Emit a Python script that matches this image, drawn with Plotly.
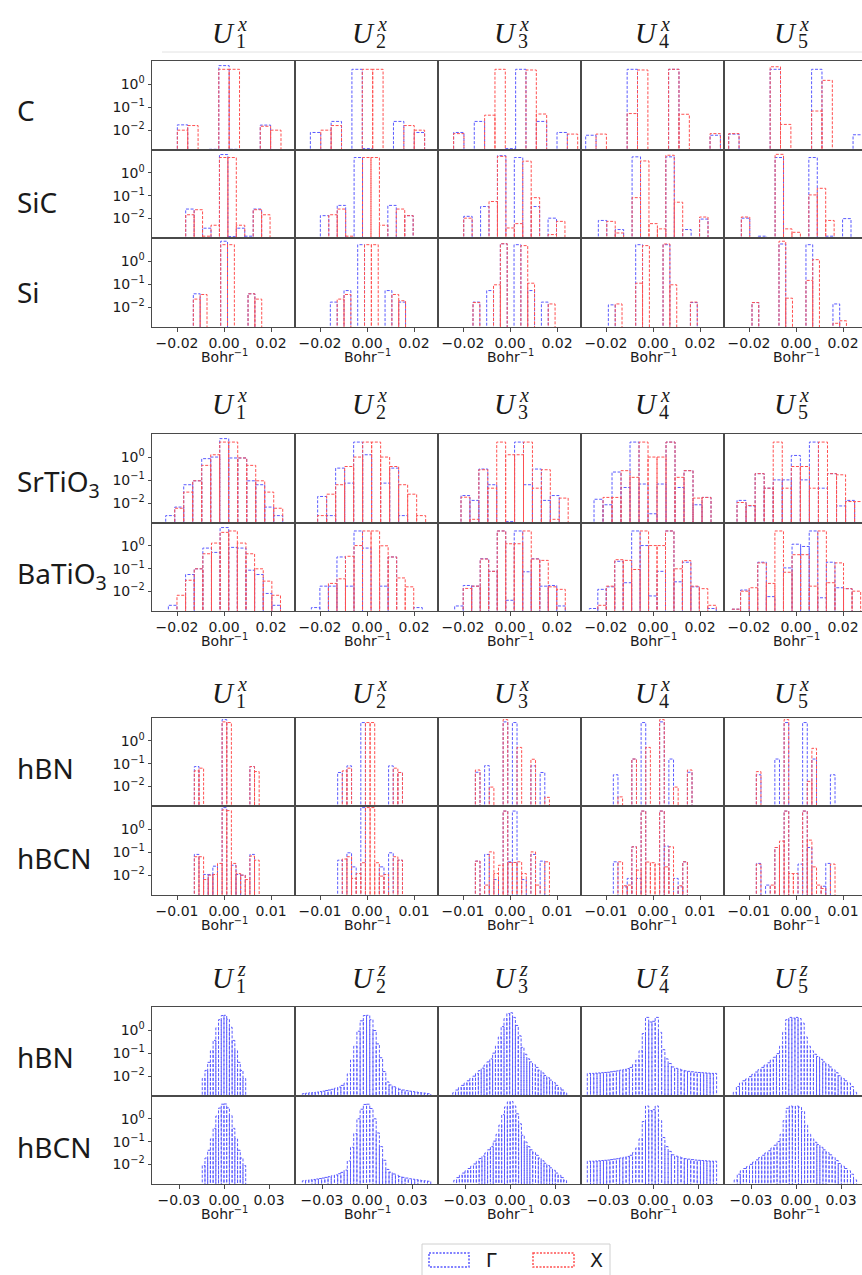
import plotly.graph_objects as go

# ---------------- data: log10(histogram density) per bin, None = empty bin ----------------
# Block 1 : C, SiC, Si   (U^x modes 1..5)
C_lo = [-0.01985, -0.0241, -0.0240, -0.02864, -0.02864]
C_w = [0.00441, 0.00442, 0.00440, 0.00441, 0.00441]
C_G = [
    [-1.77, None, None, -2.83, 0.80, -2.83, None, None, -1.78, None],
    [-2.10, None, -1.62, None, 0.64, -2.80, None, None, -1.62, None, -2.10],
    [-2.10, None, -1.62, None, None, -2.80, 0.64, None, -1.62, None, -2.10, None],
    [-2.22, None, None, None, 0.64, None, None, None, 0.64, None, None, None, -2.22],
    [-2.17, None, None, None, 0.64, None, None, None, 0.64, None, None, None, -2.20],
]
C_X = [
    [-2.00, -1.80, None, None, 0.64, 0.64, None, None, -1.83, -2.00],
    [None, -2.00, -1.80, None, None, 0.64, 0.64, None, None, -1.80, -2.00],
    [-2.15, None, None, -1.35, 0.64, None, None, 0.61, -1.30, None, None, -2.17],
    [None, -2.17, None, None, -1.28, 0.61, None, None, 0.64, -1.31, None, None, -2.15],
    [-2.15, None, None, None, 0.75, -1.75, None, None, -1.17, 0.16, None, None, None],
]

SiC_lo = [-0.0163, -0.01985, -0.0197, -0.02326, -0.02326]
SiC_w = [0.00359, 0.00359, 0.00359, 0.00359, 0.00359]
SiC_G = [
    [-1.59, None, -2.43, None, 0.80, -2.80, -2.43, -2.78, -1.59, None],
    [-1.88, None, -1.43, None, 0.67, None, None, None, -1.43, None, -1.88],
    [-1.91, None, -1.48, None, 0.75, None, 0.67, None, -1.48, None, -1.99, None],
    [-2.09, None, -2.49, None, 0.70, None, None, None, 0.70, None, -2.49, None, -2.03],
    [-1.99, None, -2.78, None, 0.67, None, None, None, 0.67, None, -2.78, None, -2.01],
]
SiC_X = [
    [-1.84, -1.62, -2.78, -2.30, 0.67, 0.67, -2.30, None, -1.62, -1.84],
    [None, -1.84, -1.59, -2.78, None, 0.67, 0.67, -2.30, None, -1.59, -1.88],
    [-1.99, None, None, -1.26, 0.72, -2.42, -2.23, 0.51, -1.09, None, -2.71, -2.13],
    [None, -2.13, -2.64, None, -1.09, 0.52, -2.23, -2.46, 0.77, -1.29, None, None, -1.94],
    [-1.94, None, None, None, 0.81, -2.46, -2.61, None, -0.97, -0.68, -2.09, None, None],
]

Si_lo = [-0.01305, -0.0156, -0.01574, -0.0190, -0.01872]
Si_w = [0.00291, 0.00291, 0.00291, 0.00291, 0.00287]
Si_G = [
    [-1.42, None, None, None, 0.86, None, None, None, -1.42, None],
    [-1.78, None, -1.28, None, 0.71, None, None, None, -1.28, None, -1.78],
    [-1.78, None, -1.28, None, 0.75, None, 0.71, None, -1.28, None, -1.78, None],
    [-1.90, None, None, None, 0.71, None, None, None, 0.71, None, None, None, -1.80],
    [-1.80, None, None, None, 0.74, None, None, None, 0.71, None, None, None, -1.86, None],
]
Si_X = [
    [-1.65, -1.45, None, None, 0.71, 0.71, None, None, -1.42, -1.65],
    [None, -1.65, -1.45, None, None, 0.71, 0.71, None, None, -1.45, -1.72],
    [-1.80, None, None, -1.03, 0.75, None, None, 0.67, -0.96, None, None, -1.86],
    [None, -1.86, None, None, -0.96, 0.67, None, None, 0.74, -1.03, None, None, -1.78],
    [-1.80, None, None, None, 0.86, -1.61, None, None, -0.84, 0.06, None, None, -2.70, -2.59],
]

# Block 2 : SrTiO3, BaTiO3
STO_lo = [-0.0248, -0.0210, -0.02085, -0.0251, -0.0251]
STO_w = [0.00383, 0.00383, 0.00380, 0.00383, 0.00385]
STO_G = [
    [-2.54, -2.17, -1.20, -1.03, -0.07, 0.00, 0.80, -0.04, -0.04, -1.03, -1.20, -2.17, -2.54],
    [-1.71, -2.54, -0.48, -1.13, 0.65, 0.10, None, -1.13, -0.48, -2.54, None, None],
    [-1.67, -1.88, -0.52, -1.20, None, -2.80, 0.65, -1.20, -0.52, -1.88, -1.67, None],
    [-1.83, -2.07, -0.65, -1.32, 0.65, -1.17, -2.46, -1.17, 0.65, -1.32, -0.59, -2.07, -1.75],
    [-1.88, -2.12, -0.72, -1.35, -0.99, -0.99, 0.07, -0.99, 0.65, -1.35, -0.72, -2.12, -1.88, None],
]
STO_X = [
    [None, -2.22, -1.52, -1.03, -0.36, 0.10, 0.65, 0.65, -0.04, -0.36, -1.03, -1.52, -2.22],
    [-2.54, -1.61, -1.20, -0.41, 0.00, 0.65, 0.65, 0.00, -0.41, -1.20, -1.61, -2.54],
    [-1.74, -2.70, -0.55, -1.35, 0.65, 0.10, 0.10, 0.65, -1.35, -0.55, -2.70, -1.78],
    [None, -1.75, -1.75, -0.59, -0.88, 0.65, 0.00, 0.00, 0.65, -0.88, -0.59, -1.78, -1.75],
    [-1.97, -2.10, -0.72, -1.35, 0.65, -1.35, -0.41, -0.41, -1.35, 0.65, -0.72, -0.77, -1.93, -1.93],
]

BTO_lo = [-0.02368, -0.02368, -0.02354, -0.02708, -0.02723]
BTO_w = [0.00367, 0.00363, 0.00362, 0.00360, 0.00365]
BTO_G = [
    [-2.61, None, -1.26, -1.01, -0.10, -0.29, 0.80, -0.07, -0.10, -1.07, -1.26, -2.09, -2.61],
    [-2.71, -1.77, -1.77, -0.49, -1.77, 0.65, -0.10, None, -1.77, -0.49, None, None, -2.71],
    [-2.64, -1.74, -1.77, -0.57, -1.12, 0.65, -2.39, 0.65, -1.14, -0.57, -1.77, -1.74, -2.64],
    [-2.75, -1.91, -1.80, -0.68, -1.62, 0.65, 0.01, -2.20, -1.12, 0.65, -1.58, -0.72, -1.80, None, -2.75],
    [-2.78, -1.94, None, -0.72, -2.23, None, -0.97, 0.07, -0.03, 0.65, -2.28, -0.72, -1.84, -1.88, None],
]
BTO_X = [
    [None, -2.17, -1.51, -1.01, -0.35, 0.12, 0.59, 0.65, 0.12, -0.35, -1.01, -1.55, -2.17],
    [None, None, -1.65, -1.45, -0.46, 0.01, 0.65, 0.65, 0.00, -0.49, -1.41, -1.80, None],
    [None, -1.87, -1.77, -0.58, -1.12, 0.65, 0.09, 0.09, 0.65, -0.58, -0.64, -1.80, -1.91],
    [None, -2.61, -1.77, -0.61, -0.64, -1.04, 0.65, 0.01, 0.01, 0.65, -1.01, -0.65, -1.77, -1.88, -2.61],
    [-2.78, -1.99, -1.84, -0.75, -1.65, 0.65, -1.16, -0.39, -0.39, -1.77, 0.65, -1.62, -0.75, -1.88, -1.99],
]

# Block 3 : hBN, hBCN  (in-plane, U^x)
BNx_lo = [-0.00631, -0.00624, -0.00737, -0.00844, -0.00844]
BNx_w = [0.000985, 0.000985, 0.000985, 0.000985, 0.000985]
BNx_G = [
    [-1.13, None, None, None, None, None, 0.93, None, None, None, None, None, -1.13, None],
    [-1.39, None, -1.10, None, None, 0.80, None, None, None, None, None, -1.10, None, -1.39],
    [-1.38, None, -1.09, None, None, None, 0.83, None, 0.80, None, None, None, -1.10, None, -1.39, None],
    [-1.49, None, None, None, -0.80, None, 0.80, None, None, None, 0.83, None, -0.80, None, None, None, -1.38],
    [-1.49, None, None, None, -0.80, None, 0.80, None, None, None, 0.80, None, -0.80, None, None, None, -1.49],
]
BNx_X = [
    [-1.32, -1.20, None, None, None, None, 0.83, 0.80, None, None, None, None, -1.13, -1.35],
    [None, -1.32, -1.20, None, None, None, 0.80, 0.80, None, None, None, None, -1.20, -1.39],
    [-1.28, None, None, -2.03, None, None, 0.93, None, None, -0.29, None, None, -0.81, None, None, -2.48],
    [None, -2.46, None, None, -0.80, None, None, -0.29, None, None, 0.93, None, None, -2.03, None, None, -1.28],
    [-1.35, None, None, None, None, None, 0.93, None, None, None, None, -1.78, -0.33, None, None, None, None],
]

BCNx_lo = [-0.00631, -0.00624, -0.00737, -0.00844, -0.00844]
BCNx_w = [0.000985, 0.000985, 0.000985, 0.000985, 0.000985]
BCNx_G = [
    [-1.10, None, -1.97, -1.97, -1.61, None, 0.93, None, -1.57, -1.97, -2.00, None, -1.10, None],
    [-1.35, None, -1.03, -1.64, None, 0.93, None, None, None, -1.64, None, -1.03, None, -1.35],
    [-1.39, None, -1.10, None, -2.19, None, 0.78, -1.42, 0.78, None, -2.19, None, -1.10, None, -1.39, None],
    [-1.42, None, -2.51, -2.14, -0.77, -2.14, 0.78, None, None, None, 0.78, -0.74, None, -2.14, -2.51, -1.42, None],
    [-1.49, None, -2.43, None, -0.80, None, 0.78, None, None, -1.52, 0.78, -0.80, None, None, -2.48, -1.49, None],
]
BCNx_X = [
    [-1.20, -1.20, -2.19, -2.00, -1.97, -1.49, 0.83, 0.80, -1.49, -1.93, -2.00, -2.19, -1.17, -1.35],
    [None, -1.30, -1.20, -2.14, -1.93, -1.46, 0.93, 0.93, -1.46, -2.04, -1.97, None, -1.20, -1.35],
    [-1.39, None, -2.43, -0.99, -1.93, -1.57, 0.78, -1.45, -1.45, -1.42, -1.93, None, -0.99, -2.43, None, -1.42],
    [None, -1.42, -2.46, -2.43, -0.77, -1.78, 0.78, -1.43, -1.46, -1.52, 0.78, -1.64, -0.77, None, -2.46, -1.42, None],
    [-1.52, None, None, -2.43, -0.80, -0.52, 0.78, -1.93, -1.93, None, 0.78, -0.48, -1.64, -2.43, -2.58, None, -1.52],
]

# Block 4 : hBN, hBCN  (out-of-plane, U^z) -- Gamma only visible
BNz_lo = [-0.0145, -0.0431, -0.0382, -0.0438, -0.0418]
BNz_w = [0.00181, 0.00214, 0.00190, 0.002155, 0.002055]
BNz_G = [
    [-2.10, -1.75, -1.40, -0.90, -0.45, 0.10, 0.45, 0.63, 0.64, 0.47, 0.12, -0.45, -0.90, -1.40, -1.75, -2.10],
    [-2.76, -2.74, -2.72, -2.71, -2.69, -2.67, -2.65, -2.62, -2.60, -2.57, -2.52, -2.47, -2.40, -2.30, -1.90,
     -1.30, -0.70, -0.05, 0.40, 0.63, 0.64, 0.45, -0.02, -0.60, -1.20, -1.80, -2.25, -2.38, -2.46, -2.52,
     -2.57, -2.60, -2.63, -2.65, -2.67, -2.69, -2.71, -2.72, -2.74, -2.76],
    [-2.72, -2.60, -2.50, -2.40, -2.30, -2.20, -2.10, -2.00, -1.88, -1.76, -1.65, -1.52, -1.38, -1.25, -1.00,
     -0.70, -0.30, 0.15, 0.50, 0.72, 0.75, 0.55, 0.20, -0.25, -0.75, -1.05, -1.25, -1.38, -1.50, -1.62,
     -1.74, -1.86, -1.97, -2.07, -2.17, -2.28, -2.40, -2.50, -2.60, -2.72],
    [-1.88, -1.88, -1.87, -1.86, -1.85, -1.84, -1.83, -1.81, -1.79, -1.77, -1.74, -1.71, -1.67, -1.62, -1.50,
     -1.30, -0.90, -0.15, 0.55, 0.35, 0.38, 0.55, -0.10, -0.85, -1.25, -1.45, -1.60, -1.66, -1.70, -1.74,
     -1.77, -1.79, -1.81, -1.83, -1.84, -1.85, -1.86, -1.87, -1.88, -1.88],
    [-2.70, -2.45, -2.30, -2.20, -2.12, -2.02, -1.92, -1.82, -1.72, -1.62, -1.52, -1.42, -1.30, -1.18, -1.02,
     -0.70, -0.10, 0.45, 0.55, 0.52, 0.55, 0.50, 0.30, -0.30, -0.70, -0.90, -1.05, -1.15, -1.27, -1.38,
     -1.50, -1.60, -1.72, -1.85, -1.98, -2.10, -2.20, -2.30, -2.45, -2.70],
]
BCNz_lo = [-0.0145, -0.0431, -0.0375, -0.0438, -0.0412]
BCNz_w = [0.00181, 0.00214, 0.00188, 0.002155, 0.00204]
BCNz_G = [
    [-2.05, -1.72, -1.38, -0.88, -0.42, 0.12, 0.47, 0.64, 0.65, 0.48, 0.14, -0.42, -0.88, -1.38, -1.72, -2.05],
    [-2.72, -2.70, -2.68, -2.66, -2.64, -2.62, -2.60, -2.57, -2.54, -2.50, -2.46, -2.41, -2.35, -2.25, -1.85,
     -1.25, -0.65, 0.00, 0.42, 0.63, 0.64, 0.45, 0.00, -0.62, -1.22, -1.82, -2.22, -2.34, -2.42, -2.48,
     -2.53, -2.57, -2.60, -2.63, -2.65, -2.67, -2.69, -2.71, -2.72, -2.74],
    [-2.70, -2.58, -2.48, -2.38, -2.28, -2.18, -2.08, -1.98, -1.86, -1.74, -1.63, -1.50, -1.36, -1.22, -0.98,
     -0.68, -0.28, 0.18, 0.52, 0.74, 0.76, 0.56, 0.22, -0.22, -0.72, -1.02, -1.22, -1.36, -1.48, -1.60,
     -1.72, -1.84, -1.95, -2.05, -2.15, -2.26, -2.38, -2.48, -2.58, -2.70],
    [-1.86, -1.86, -1.85, -1.84, -1.83, -1.82, -1.81, -1.79, -1.77, -1.75, -1.72, -1.69, -1.65, -1.60, -1.48,
     -1.28, -0.88, -0.12, 0.56, 0.36, 0.40, 0.56, -0.08, -0.82, -1.22, -1.43, -1.58, -1.64, -1.68, -1.72,
     -1.75, -1.77, -1.79, -1.81, -1.82, -1.83, -1.84, -1.85, -1.86, -1.86],
    [-2.68, -2.43, -2.28, -2.18, -2.10, -2.00, -1.90, -1.80, -1.70, -1.60, -1.50, -1.40, -1.28, -1.16, -1.00,
     -0.68, -0.08, 0.46, 0.56, 0.53, 0.56, 0.51, 0.32, -0.28, -0.68, -0.88, -1.03, -1.13, -1.25, -1.36,
     -1.48, -1.58, -1.70, -1.83, -1.96, -2.08, -2.18, -2.28, -2.43, -2.68],
]

ROW_LABELS = ["C", "SiC", "Si", "SrTiO<sub>3</sub>", "BaTiO<sub>3</sub>", "hBN", "hBCN", "hBN", "hBCN"]
MODE_NAMES = ["1", "2", "3", "4", "5"]
YTICK_VALS = [1, 0.1, 0.01]
YTICK_TEXT = ["10<sup>0</sup>", "10<sup>\u22121</sup>", "10<sup>\u22122</sup>"]
LEGEND_NAMES = ["\u0393", "X"]

# ---------------- geometry ----------------
W, H = 862, 1275
COL_L = [152, 295, 438, 581, 724]
COL_W = 143
RIGHT = 862
YR = [-2.86, 1.0]
FLOOR = 1e-4
BLUE = "#5a5aff"
RED = "#ff5050"
DASH = "3px,1.6px"
FRAME = "#4a4a4a"
TXT = "#1a1a1a"

BLOCKS = [
    dict(upp=0.02 / 47, ticks=[-0.02, 0, 0.02], labels=["\u22120.02", "0.00", "0.02"], title_y=33, comp="x"),
    dict(upp=0.02 / 47, ticks=[-0.02, 0, 0.02], labels=["\u22120.02", "0.00", "0.02"], title_y=404, comp="x"),
    dict(upp=0.01 / 47, ticks=[-0.01, 0, 0.01], labels=["\u22120.01", "0.00", "0.01"], title_y=693, comp="x"),
    dict(upp=0.03 / 45, ticks=[-0.03, 0, 0.03], labels=["\u22120.03", "0.00", "0.03"], title_y=978, comp="z"),
]
ROWS = [
    (0, 61, 150, C_lo, C_w, C_G, C_X, 110),
    (0, 150, 238, SiC_lo, SiC_w, SiC_G, SiC_X, 202),
    (0, 238, 327, Si_lo, Si_w, Si_G, Si_X, 292),
    (1, 434, 523, STO_lo, STO_w, STO_G, STO_X, 483),
    (1, 523, 611, BTO_lo, BTO_w, BTO_G, BTO_X, 575),
    (2, 718, 806, BNx_lo, BNx_w, BNx_G, BNx_X, 768),
    (2, 806, 895, BCNx_lo, BCNx_w, BCNx_G, BCNx_X, 858),
    (3, 1007, 1096, BNz_lo, BNz_w, BNz_G, None, 1057),
    (3, 1096, 1184, BCNz_lo, BCNz_w, BCNz_G, None, 1147),
]
BOTTOM_ROWS = {2, 4, 6, 8}
TITLE_X = [225, 365, 507, 648, 787]


def rect_path(lo, w, vals):
    xs, ys = [], []
    for i, v in enumerate(vals):
        if v is None:
            continue
        x0 = lo + i * w
        x1 = x0 + w
        h = 10 ** v
        xs += [x0, x0, x1, x1, None]
        ys += [FLOOR, h, h, FLOOR, None]
    return xs, ys


fig = go.Figure()
layout = {}
annotations = []
n = 0
for r, (b, top, bot, lo, w, G, X, label_y) in enumerate(ROWS):
    blk = BLOCKS[b]
    upp = blk["upp"]
    is_bottom = r in BOTTOM_ROWS
    for c in range(5):
        n += 1
        L = COL_L[c]
        R = min(L + COL_W, RIGHT)
        xname = "x" if n == 1 else f"x{n}"
        yname = "y" if n == 1 else f"y{n}"
        layout["xaxis" if n == 1 else f"xaxis{n}"] = dict(
            domain=[L / W, R / W], range=[-72 * upp, (R - L - 72) * upp], anchor=yname,
            showline=True, mirror=True, linecolor=FRAME, linewidth=1, showgrid=False, zeroline=False,
            tickmode="array", tickvals=blk["ticks"], ticktext=blk["labels"],
            ticks="outside" if is_bottom else "", ticklen=3.5, tickcolor=FRAME,
            showticklabels=is_bottom, tickfont=dict(family="DejaVu Sans", size=14, color=TXT),
            fixedrange=True,
        )
        layout["yaxis" if n == 1 else f"yaxis{n}"] = dict(
            domain=[1 - bot / H, 1 - top / H], type="log", range=YR, anchor=xname,
            showline=True, mirror=True, linecolor=FRAME, linewidth=1, showgrid=False, zeroline=False,
            tickmode="array", tickvals=YTICK_VALS, ticktext=YTICK_TEXT,
            ticks="outside" if c == 0 else "", ticklen=3.5, tickcolor=FRAME,
            showticklabels=(c == 0), tickfont=dict(family="DejaVu Sans", size=14, color=TXT),
            fixedrange=True,
        )
        for vals_set, color in ((G, BLUE), (X, RED)):
            if vals_set is None:
                continue
            xs, ys = rect_path(lo[c], w[c], vals_set[c])
            fig.add_trace(go.Scatter(
                x=xs, y=ys, mode="lines", xaxis=xname, yaxis=yname,
                line=dict(color=color, width=1, dash=DASH), hoverinfo="skip", showlegend=False,
            ))
        if is_bottom:
            annotations.append(dict(
                text="Bohr<sup>\u22121</sup>", x=(L + 72) / W, y=1 - (bot + 29) / H,
                xref="paper", yref="paper", showarrow=False, xanchor="center", yanchor="middle",
                font=dict(family="DejaVu Sans", size=14, color=TXT),
            ))
    annotations.append(dict(
        text=ROW_LABELS[r], x=15 / W, y=1 - label_y / H, xref="paper", yref="paper",
        showarrow=False, xanchor="left", yanchor="middle",
        font=dict(family="Noto Sans", size=28, color=TXT),
    ))

# column titles U_i^x / U_i^z  (base letter plus stacked super/subscript)
for blk in BLOCKS:
    ty = blk["title_y"]
    for c in range(5):
        cx = TITLE_X[c]
        annotations.append(dict(
            text="<i>U</i>", x=(cx + 11) / W, y=1 - ty / H, xref="paper", yref="paper", showarrow=False,
            xanchor="right", yanchor="middle", borderpad=0,
            font=dict(family="Liberation Serif", size=29, color=TXT),
        ))
        annotations.append(dict(
            text=f"<i>{blk['comp']}</i>", x=(cx + 11) / W, y=1 - (ty - 9) / H, xref="paper", yref="paper",
            showarrow=False, xanchor="left", yanchor="middle", borderpad=0,
            font=dict(family="Liberation Serif", size=20, color=TXT),
        ))
        annotations.append(dict(
            text=MODE_NAMES[c], x=(cx + 10) / W, y=1 - (ty + 8) / H, xref="paper", yref="paper",
            showarrow=False, xanchor="left", yanchor="middle", borderpad=0,
            font=dict(family="Liberation Serif", size=20, color=TXT),
        ))

# legend (drawn manually: dashed patches)
shapes = [
    dict(type="line", xref="paper", yref="paper", x0=162 / W, x1=1.0, y0=1 - 52 / H, y1=1 - 52 / H,
         line=dict(color="#e2e2e2", width=1)),
    dict(type="rect", xref="paper", yref="paper", x0=422 / W, x1=610 / W, y0=1 - 1244 / H, y1=1 - 1282 / H,
         line=dict(color="#d0d0d0", width=1), fillcolor="white", layer="below"),
    dict(type="rect", xref="paper", yref="paper", x0=429 / W, x1=469 / W, y0=1 - 1253 / H, y1=1 - 1267 / H,
         line=dict(color=BLUE, width=1.5, dash="2px,1.5px")),
    dict(type="rect", xref="paper", yref="paper", x0=533 / W, x1=574 / W, y0=1 - 1253 / H, y1=1 - 1267 / H,
         line=dict(color=RED, width=1.5, dash="2px,1.5px")),
]
for name, lx in zip(LEGEND_NAMES, [491, 596]):
    annotations.append(dict(
        text=name, x=lx / W, y=1 - 1260 / H, xref="paper", yref="paper", showarrow=False,
        xanchor="center", yanchor="middle", font=dict(family="DejaVu Sans", size=19, color=TXT),
    ))

fig.update_layout(
    width=W, height=H, autosize=False, margin=dict(l=0, r=0, t=0, b=0),
    paper_bgcolor="white", plot_bgcolor="white", showlegend=False,
    annotations=annotations, shapes=shapes, **layout,
)
fig.write_html("out.html")
